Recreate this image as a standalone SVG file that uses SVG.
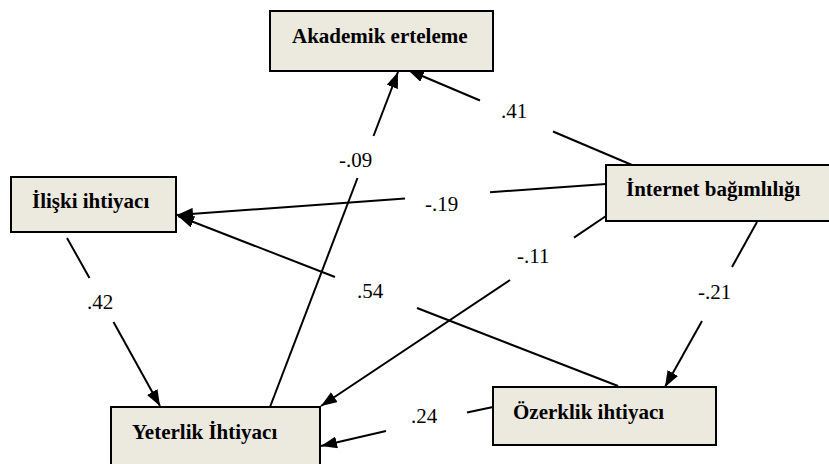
<svg xmlns="http://www.w3.org/2000/svg" width="829" height="464" viewBox="0 0 829 464">
  <style>
    .box { fill: #ECE9DF; stroke: #000; stroke-width: 2; }
    .name { font-family: "Liberation Serif", "Times New Roman", serif; font-weight: bold; font-size: 21px; fill: #000; }
    .edge { stroke: #000; stroke-width: 2; fill: none; }
    .coef { font-family: "Liberation Serif", "Times New Roman", serif; font-size: 21px; fill: #000; }
  </style>
  <defs>
    <marker id="arrow" viewBox="0 0 16 12" refX="16" refY="6" markerWidth="16" markerHeight="12" markerUnits="userSpaceOnUse" orient="auto">
      <path d="M0,0 L16,6 L0,12 z" fill="#000"/>
    </marker>
  </defs>
  <rect width="829" height="464" fill="#fff"/>

  <g id="connectors">
    <!-- Yeterlik -> Akademik (-.09) -->
    <line class="edge" x1="270" y1="407" x2="357.5" y2="178"/>
    <line class="edge" x1="373.5" y1="136" x2="398" y2="72" marker-end="url(#arrow)"/>
    <!-- Internet -> Akademik (.41) -->
    <line class="edge" x1="632" y1="165" x2="553" y2="131.5"/>
    <line class="edge" x1="480" y1="100.5" x2="408" y2="70" marker-end="url(#arrow)"/>
    <!-- Internet -> Iliski (-.19) -->
    <line class="edge" x1="606" y1="184" x2="490" y2="192.3"/>
    <line class="edge" x1="405" y1="198.5" x2="177" y2="215" marker-end="url(#arrow)"/>
    <!-- Ozerklik -> Iliski (.54) -->
    <line class="edge" x1="618" y1="386" x2="417" y2="308"/>
    <line class="edge" x1="335" y1="277" x2="178" y2="216" marker-end="url(#arrow)"/>
    <!-- Internet -> Yeterlik (-.11) -->
    <line class="edge" x1="606" y1="216" x2="574" y2="237.6"/>
    <line class="edge" x1="510" y1="280" x2="321" y2="406" marker-end="url(#arrow)"/>
    <!-- Iliski -> Yeterlik (.42) -->
    <line class="edge" x1="67" y1="238" x2="89.5" y2="278"/>
    <line class="edge" x1="113.5" y1="322" x2="160" y2="406" marker-end="url(#arrow)"/>
    <!-- Internet -> Ozerklik (-.21) -->
    <line class="edge" x1="757" y1="222" x2="732" y2="267"/>
    <line class="edge" x1="702" y1="321" x2="665" y2="387" marker-end="url(#arrow)"/>
    <!-- Ozerklik -> Yeterlik (.24) -->
    <line class="edge" x1="493" y1="407" x2="467" y2="412.5"/>
    <line class="edge" x1="386" y1="431" x2="321" y2="446" marker-end="url(#arrow)"/>

    <text class="coef" x="501" y="118">.41</text>
    <text class="coef" x="339" y="167">-.09</text>
    <text class="coef" x="425" y="211">-.19</text>
    <text class="coef" x="517" y="263">-.11</text>
    <text class="coef" x="357" y="298">.54</text>
    <text class="coef" x="87" y="309">.42</text>
    <text class="coef" x="698" y="299">-.21</text>
    <text class="coef" x="411" y="423">.24</text>
  </g>

  <g id="akademik-erteleme">
    <rect class="box" x="270" y="11" width="223" height="60"/>
    <text class="name" x="292" y="43">Akademik erteleme</text>
  </g>
  <g id="iliski-ihtiyaci">
    <rect class="box" x="11" y="177" width="165" height="55"/>
    <text class="name" x="32" y="208">İlişki ihtiyacı</text>
  </g>
  <g id="internet-bagimliligi">
    <rect class="box" x="606" y="165" width="240" height="56"/>
    <text class="name" x="626" y="196">İnternet bağımlılığı</text>
  </g>
  <g id="yeterlik-ihtiyaci">
    <rect class="box" x="111" y="407" width="209" height="70"/>
    <text class="name" x="132" y="439">Yeterlik İhtiyacı</text>
  </g>
  <g id="ozerklik-ihtiyaci">
    <rect class="box" x="493" y="387" width="223" height="58"/>
    <text class="name" x="513" y="419">Özerklik ihtiyacı</text>
  </g>
</svg>
